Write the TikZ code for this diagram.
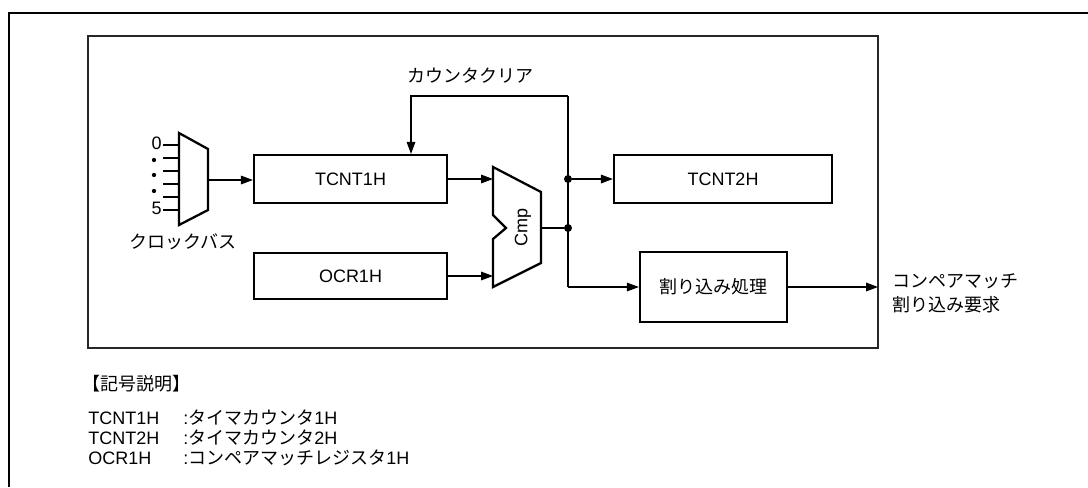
\documentclass[tikz,border=0pt]{standalone}
\usepackage{fontspec}
\setmainfont{Liberation Sans}
\newfontfamily\jp{Noto Sans CJK JP}
\usetikzlibrary{arrows.meta}
\begin{document}
\begin{tikzpicture}[x=0.75pt,y=-0.75pt,
  every node/.style={font=\fontsize{13.5}{16}\selectfont, inner sep=0pt},
  blk/.style={draw, line width=1.7pt, inner sep=0pt},
  conn/.style={line width=0.8pt},
  arr/.style={conn, -{Triangle[length=9pt,width=6.5pt]}},
  jdot/.style={circle, fill, minimum size=6pt, inner sep=0pt}]
\useasboundingbox (0,0) rectangle (1088,487);
% outer frame
\draw[line width=2pt] (9,487) -- (9,13) -- (1088,13);
% inner frame
\draw[line width=1.7pt, black!85] (88,36) rectangle (878,348);
% blocks
\node[blk, minimum width=144.75pt, minimum height=36pt] (t1) at (350.5,179) {TCNT1H};
\node[blk, minimum width=144.75pt, minimum height=34.5pt] (ocr) at (350.5,276) {OCR1H};
\node[blk, minimum width=163.5pt, minimum height=36pt] (t2) at (723,179) {TCNT2H};
\node[blk, minimum width=110.25pt, minimum height=52.5pt] (intr) at (713.5,287) {\jp 割り込み処理};
% multiplexer
\draw[line width=1.7pt, line join=miter] (179,133) -- (208,149) -- (208,210) -- (179,225) -- cycle;
\coordinate (muxout) at (208,180);
\foreach \yy in {145,158,171,184,197,210} \draw[conn] (163,\yy) -- (179,\yy);
\node[anchor=east] (l0) at (162,143) {0};
\node[anchor=east] (l5) at (162,208) {5};
\foreach \yy in {160,175,191} \fill (154,\yy) circle (1.6pt);
\node (clk) at (183,242) {\jp クロックバス};
% comparator
\draw[line width=1.7pt, line join=miter] (493,167) -- (541,192) -- (541,263) -- (493,287) -- (493,239) -- (506,228) -- (493,215) -- cycle;
\node[rotate=90] (cmp) at (523,227) {Cmp};
\coordinate (cin1) at (493,179);
\coordinate (cin2) at (493,276);
\coordinate (cout) at (541,228);
% junctions
\node[jdot] (j1) at (568,179) {};
\node[jdot] (j2) at (568,228) {};
\coordinate (topR) at (568,96);
\coordinate (topL) at (411,96);
\coordinate (botL) at (568,287);
\coordinate (outend) at (878,287);
% connectors
\draw[arr] (muxout) -- (t1.west |- muxout);
\draw[arr] (t1.east) -- (cin1);
\draw[arr] (ocr.east) -- (cin2);
\draw[conn] (cout) -- (j2);
\draw[conn] (topR) -- (botL);
\draw[arr] (topR) -- (topL) -- (topL |- t1.north);
\draw[arr] (j1) -- (t2.west);
\draw[arr] (botL) -- (intr.west);
\draw[arr] (intr.east) -- (outend);
% labels
\node (cc) at (470,76) {\jp カウンタクリア};
\node[anchor=west, align=left] (req) at (892,293) {\jp コンペアマッチ\\[2pt]\jp 割り込み要求};
% legend
\node[anchor=west] (lgh) at (82,384) {\jp 【記号説明】};
\node[anchor=west] (n1) at (88,418) {TCNT1H};
\node[anchor=west] (n2) at (88,438) {TCNT2H};
\node[anchor=west] (n3) at (88,458) {OCR1H};
\node[anchor=west] (d1) at (183,418) {:{\jp タイマカウンタ}1H};
\node[anchor=west] (d2) at (183,438) {:{\jp タイマカウンタ}2H};
\node[anchor=west] (d3) at (183,458) {:{\jp コンペアマッチレジスタ}1H};
\end{tikzpicture}
\end{document}
